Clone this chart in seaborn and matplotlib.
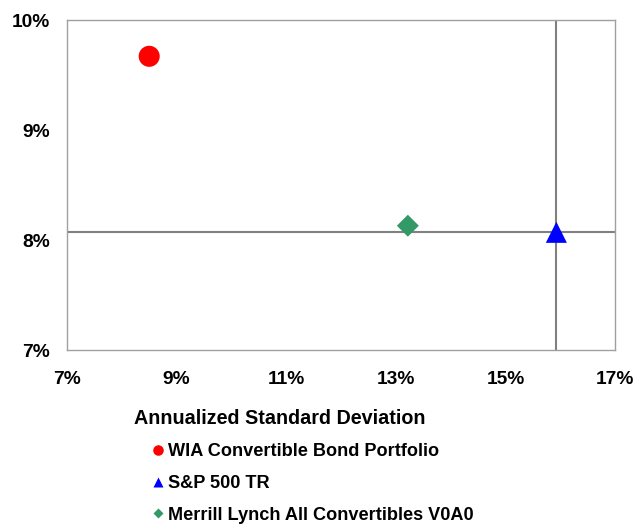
import numpy as np
import pandas as pd
import matplotlib
matplotlib.use('Agg')
import matplotlib.pyplot as plt
import seaborn as sns

sns.set_style('white')
plt.rcParams['font.family'] = ['Liberation Sans', 'DejaVu Sans']
plt.rcParams['font.weight'] = 'bold'
plt.rcParams['text.color'] = 'black'
plt.rcParams['xtick.color'] = 'black'
plt.rcParams['ytick.color'] = 'black'

# --- data ---
names = ['WIA Convertible Bond Portfolio', 'S&P 500 TR', 'Merrill Lynch All Convertibles V0A0']
std_dev = [8.50, 15.93, 13.22]      # annualized standard deviation (%)
ret = [9.67, 8.07, 8.13]            # annualized return (%)
colors = ['#ff0000', '#0000ff', '#339966']
marker_shapes = ['o', '^', 'D']
marker_sizes = [230, 230, 125]

# crosshair through the S&P 500 point
ref_x = std_dev[1]
ref_y = ret[1]

df = pd.DataFrame({'Series': names, 'Std': std_dev, 'Return': ret})

fig = plt.figure(figsize=(6.35, 5.25), dpi=100)
ax = fig.add_axes([0.1055, 0.3333, 0.8630, 0.6286])

ax.axhline(ref_y, color='#808080', linewidth=1.5, zorder=1)
ax.axvline(ref_x, color='#808080', linewidth=1.5, zorder=1)

sns.scatterplot(data=df, x='Std', y='Return', hue='Series', style='Series', size='Series',
                palette=dict(zip(names, colors)),
                markers=dict(zip(names, marker_shapes)),
                sizes=dict(zip(names, marker_sizes)),
                edgecolor='none', ax=ax, zorder=3, legend=True)

ax.set_xlim(7, 17)
ax.set_ylim(7, 10)
ax.set_xticks([7, 9, 11, 13, 15, 17])
ax.set_yticks([7, 8, 9, 10])
ax.set_xticklabels([f'{t}%' for t in [7, 9, 11, 13, 15, 17]], fontsize=13.8, fontweight='bold')
ax.set_yticklabels([f'{t}%' for t in [7, 8, 9, 10]], fontsize=13.8, fontweight='bold')
ax.tick_params(axis='x', length=0, pad=15)
ax.tick_params(axis='y', length=0, pad=12)
ax.set_xlabel('')
ax.set_ylabel('')
for sp in ax.spines.values():
    sp.set_color('#a0a0a0')
    sp.set_linewidth(1.0)

fig.text(280 / 635, 1 - 418 / 525, 'Annualized Standard Deviation',
         ha='center', va='center', fontsize=14.2, fontweight='bold')

handles, labels = ax.get_legend_handles_labels()
ax.get_legend().remove()
fig.legend(handles, labels, loc='upper left', bbox_to_anchor=(151 / 635, 1 - 443 / 525),
           frameon=False, markerscale=0.5, handlelength=0.8, handletextpad=0.15,
           borderpad=0, borderaxespad=0, labelspacing=0.82,
           prop={'weight': 'bold', 'size': 13.1})

fig.savefig('out.png', dpi=100)
